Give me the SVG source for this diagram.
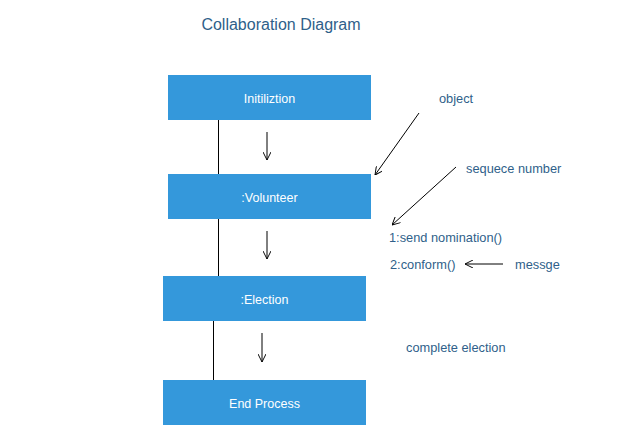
<svg xmlns="http://www.w3.org/2000/svg" width="630" height="436" viewBox="0 0 630 436">
<defs>
<marker id="open" viewBox="0 0 10 10" refX="10" refY="5" markerWidth="8" markerHeight="8" markerUnits="userSpaceOnUse" orient="auto">
<path d="M0,0 L10,5 L0,10" fill="none" stroke="#000" stroke-width="1.2"/>
</marker>
</defs>
<style>
.box{fill:#3498db;}
.bt{font-family:"Liberation Sans",Arial,sans-serif;font-size:12.5px;fill:#ffffff;text-anchor:middle;}
.lb{font-family:"Liberation Sans",Arial,sans-serif;font-size:12.8px;fill:#2f5f8a;}
.ln{stroke:#000;stroke-width:1;fill:none;}
.ar{stroke:#000;stroke-width:1;fill:none;marker-end:url(#open);}
</style>
<rect width="630" height="436" fill="#ffffff"/>
<text x="281" y="30" font-family="Liberation Sans,Arial,sans-serif" font-size="16" fill="#2f5f8a" text-anchor="middle">Collaboration Diagram</text>
<g id="connectors">
<line class="ln" x1="218.5" y1="120" x2="218.5" y2="276"/>
<line class="ln" x1="213.5" y1="321" x2="213.5" y2="380"/>
<line class="ar" x1="267" y1="132" x2="267" y2="160"/>
<line class="ar" x1="267" y1="231" x2="267" y2="259"/>
<line class="ar" x1="262" y1="333" x2="262" y2="362"/>
<line class="ar" x1="419" y1="113" x2="375" y2="175"/>
<line class="ar" x1="456" y1="167" x2="392" y2="225"/>
<line class="ar" x1="503" y1="264" x2="465" y2="264"/>
</g>
<g id="initiliztion">
<rect class="box" x="168" y="75" width="203" height="45"/>
<text class="bt" x="269.5" y="103">Initiliztion</text>
</g>
<g id="volunteer">
<rect class="box" x="168" y="174" width="203" height="45"/>
<text class="bt" x="269.5" y="202">:Volunteer</text>
</g>
<g id="election">
<rect class="box" x="163" y="276" width="203" height="45"/>
<text class="bt" x="264.5" y="304">:Election</text>
</g>
<g id="end-process">
<rect class="box" x="163" y="380" width="203" height="45"/>
<text class="bt" x="264.5" y="408">End Process</text>
</g>
<g id="labels">
<text class="lb" x="439" y="103">object</text>
<text class="lb" x="466" y="173">sequece number</text>
<text class="lb" x="389" y="242">1:send nomination()</text>
<text class="lb" x="390" y="269">2:conform()</text>
<text class="lb" x="515" y="269">messge</text>
<text class="lb" x="406" y="352">complete election</text>
</g>
</svg>
